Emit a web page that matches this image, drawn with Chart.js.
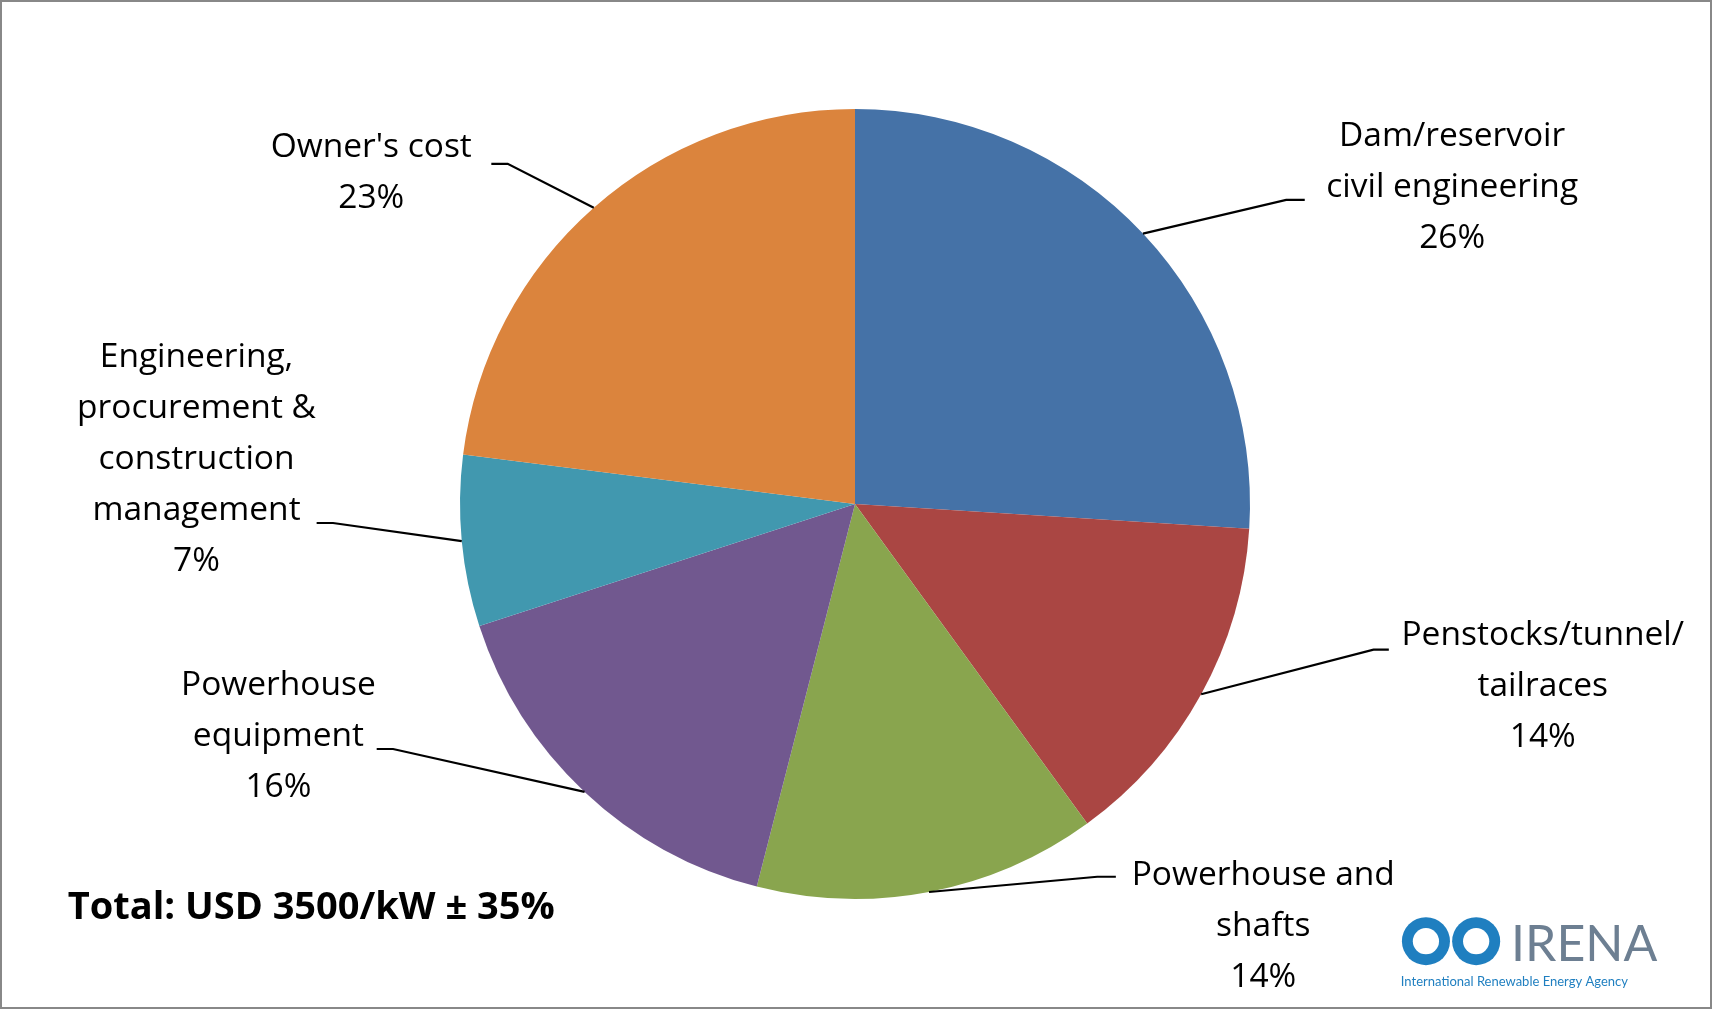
<!DOCTYPE html>
<html><head><meta charset="utf-8">
<script src="https://cdn.jsdelivr.net/npm/chart.js@4"></script>
<style>html,body{margin:0;padding:0;background:#fff;overflow:hidden}</style>
</head><body>
<canvas id="c" width="1712" height="1009"></canvas>
<script>
const categories = ["Dam/reservoir civil engineering","Penstocks/tunnel/tailraces","Powerhouse and shafts","Powerhouse equipment","Engineering, procurement & construction management","Owner's cost"];
const shares = [26,14,14,16,7,23];
const labelLines = [["Dam/reservoir","civil engineering","26%"],["Penstocks/tunnel/","tailraces","14%"],["Powerhouse and","shafts","14%"],["Powerhouse","equipment","16%"],["Engineering,","procurement &","construction","management","7%"],["Owner's cost","23%"]];
const colors = ["#4572A7","#AA4643","#89A54E","#71588F","#4198AF","#DB843D"];
const S = 1712/1568;
const layout = [
 {tx:1330,ty:125,ex:1178,ey:183,fx:1195},
 {tx:1413,ty:582,ex:1258,ey:595,fx:1272},
 {tx:1157,ty:802,ex:1005,ey:803,fx:1022},
 {tx:255,ty:628,ex:360,ey:686,fx:345},
 {tx:180,ty:327,ex:305,ey:479,fx:290},
 {tx:340,ty:135,ex:465,ey:150,fx:450}
];
const FONT = "'Open Sans', sans-serif";
const deco = {
 id:'deco',
 afterDraw(chart){
  const ctx=chart.ctx;
  const meta=chart.getDatasetMeta(0);
  ctx.save();
  ctx.strokeStyle='#888';ctx.lineWidth=2;ctx.strokeRect(1,1,1710,1007);
  ctx.font='33.5px '+FONT;ctx.fillStyle='#000';ctx.textAlign='center';ctx.textBaseline='middle';
  meta.data.forEach((arc,i)=>{
   const p=arc.getProps(['x','y','startAngle','endAngle','outerRadius'],true);
   const a=(p.startAngle+p.endAngle)/2;
   const sx=p.x+Math.cos(a)*p.outerRadius, sy=p.y+Math.sin(a)*p.outerRadius;
   const L=layout[i];
   ctx.strokeStyle='#000';ctx.lineWidth=2.2;ctx.beginPath();
   ctx.moveTo(sx,sy);ctx.lineTo(L.ex*S,L.ey*S);ctx.lineTo(L.fx*S,L.ey*S);ctx.stroke();
   labelLines[i].forEach((t,k)=>ctx.fillText(t,L.tx*S,(L.ty+k*46.8)*S));
  });
  ctx.textAlign='left';ctx.font='bold 38px '+FONT;
  ctx.fillText('Total: USD 3500/kW ± 35%',62*S,832*S);
  ctx.strokeStyle='#1f7fc0';ctx.fillStyle='#1f7fc0';
  ctx.beginPath();ctx.arc(1306*S,862*S,22*S,0,Math.PI*2);ctx.fill();
  ctx.beginPath();ctx.arc(1352*S,862*S,22*S,0,Math.PI*2);ctx.fill();
  ctx.fillStyle='#fff';
  ctx.beginPath();ctx.arc(1306*S,862*S,12*S,0,Math.PI*2);ctx.fill();
  ctx.beginPath();ctx.arc(1352*S,862*S,12*S,0,Math.PI*2);ctx.fill();
  ctx.fillStyle='#6d7f92';ctx.font='50px Lato, sans-serif';ctx.textBaseline='alphabetic';
  ctx.fillText('IRENA',1384*S,880*S);
  ctx.fillStyle='#1f7fc0';ctx.font='13px Lato, sans-serif';
  ctx.fillText('International Renewable Energy Agency',1283*S,903*S);
  ctx.restore();
 }
};
new Chart(document.getElementById('c'),{
 type:'pie',
 data:{labels:categories,datasets:[{data:shares,backgroundColor:colors,borderWidth:0}]},
 options:{responsive:false,animation:false,rotation:0,
  layout:{padding:{top:109,bottom:110,left:460,right:462}},
  plugins:{legend:{display:false},tooltip:{enabled:false}}},
 plugins:[deco]
});
</script>
</body></html>
